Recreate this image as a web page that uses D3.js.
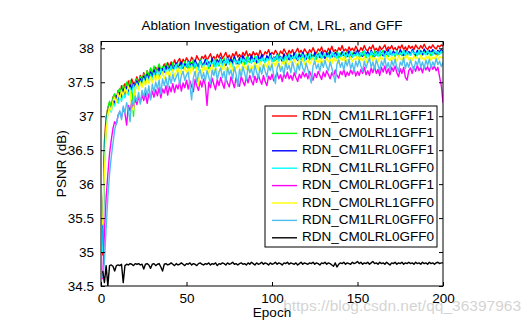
<!DOCTYPE html>
<html>
<head>
<meta charset="utf-8">
<script src="https://cdn.jsdelivr.net/npm/d3@7"></script>
<style>
  html, body { margin: 0; padding: 0; background: #fff; }
  svg { display: block; font-family: "Liberation Sans", Arial, Helvetica, sans-serif; }
</style>
</head>
<body>
<svg id="chart" width="531" height="326"></svg>
<script>
// PSNR (dB) per training epoch, one array per ablation setting
const epochs = d3.range(1, 201);

const cm1lrl1gff1 = [
34.95,36.62,36.98,37.12,37.20,37.13,37.28,37.32,37.25,37.38,
37.30,37.45,37.36,37.48,37.40,37.52,37.43,37.55,37.47,37.50,
37.58,37.49,37.60,37.53,37.64,37.55,37.67,37.58,37.70,37.61,
37.66,37.72,37.63,37.74,37.68,37.71,37.77,37.69,37.79,37.72,
37.80,37.74,37.83,37.76,37.81,37.85,37.77,37.84,37.79,37.86,
37.82,37.78,37.87,37.83,37.80,37.89,37.84,37.81,37.88,37.85,
37.90,37.82,37.87,37.92,37.84,37.88,37.83,37.91,37.86,37.93,
37.85,37.89,37.94,37.86,37.90,37.84,37.92,37.88,37.95,37.87,
37.91,37.86,37.94,37.89,37.96,37.88,37.92,37.87,37.95,37.90,
37.93,37.88,37.97,37.91,37.89,37.95,37.92,37.98,37.90,37.94,
37.91,37.97,37.93,37.89,37.96,37.92,37.99,37.94,37.90,37.97,
37.93,37.98,37.91,37.95,38.00,37.93,37.97,37.92,37.99,37.95,
37.92,37.98,37.94,38.01,37.95,37.93,37.99,37.96,38.02,37.94,
37.97,37.93,38.00,37.96,38.03,37.95,37.98,37.94,38.01,37.97,
38.04,37.96,37.99,37.95,38.02,37.97,38.00,37.96,38.03,37.98,
37.95,38.01,37.97,38.04,37.98,37.96,38.02,37.99,38.05,37.97,
38.00,37.96,38.03,37.98,38.01,38.05,37.97,38.02,37.99,38.04,
37.98,38.01,37.96,38.03,38.00,38.05,37.98,38.02,37.97,38.04,
38.00,38.03,37.98,38.05,38.01,37.99,38.04,38.00,38.06,38.01,
37.98,38.03,38.00,38.05,38.01,37.99,38.04,38.02,38.05,38.03];

const cm0lrl1gff1 = [
35.20,36.55,36.92,37.12,37.22,37.14,37.27,37.33,37.24,37.36,
37.41,37.32,37.46,37.37,37.50,37.41,37.53,37.45,37.00,37.48,
37.55,37.46,37.58,37.51,37.62,37.54,37.67,37.59,37.71,37.62,
37.74,37.65,37.70,37.77,37.66,37.73,37.69,37.78,37.70,37.75,
37.68,37.79,37.72,37.76,37.67,37.80,37.73,37.70,37.81,37.74,
37.69,37.80,37.75,37.83,37.71,37.78,37.74,37.84,37.72,37.79,
37.76,37.83,37.70,37.81,37.77,37.73,37.85,37.78,37.74,37.82,
37.79,37.86,37.75,37.80,37.84,37.76,37.82,37.87,37.77,37.81,
37.85,37.78,37.83,37.76,37.87,37.81,37.79,37.86,37.82,37.88,
37.78,37.84,37.81,37.89,37.83,37.79,37.87,37.82,37.90,37.84,
37.80,37.88,37.83,37.91,37.85,37.81,37.89,37.74,37.86,37.92,
37.84,37.88,37.82,37.90,37.86,37.93,37.83,37.89,37.85,37.91,
37.87,37.83,37.92,37.86,37.90,37.84,37.93,37.88,37.85,37.92,
37.86,37.91,37.94,37.85,37.89,37.92,37.87,37.95,37.86,37.93,
37.89,37.91,37.86,37.95,37.88,37.85,37.93,37.89,37.96,37.87,
37.92,37.88,37.95,37.90,37.86,37.94,37.89,37.92,37.87,37.96,
37.90,37.94,37.88,37.93,37.97,37.89,37.92,37.88,37.95,37.91,
37.94,37.87,37.96,37.90,37.93,37.89,37.97,37.91,37.88,37.95,
37.90,37.96,37.92,37.88,37.95,37.91,37.97,37.90,37.93,37.96,
37.91,37.95,37.89,37.97,37.92,37.94,37.90,37.96,37.93,37.95];

const cm1lrl0gff1 = [
35.10,36.40,36.88,37.06,37.15,37.10,37.24,37.19,37.30,37.23,
37.35,37.28,37.40,37.31,37.43,37.36,37.46,37.39,37.49,37.42,
37.52,37.44,37.55,37.47,37.59,37.50,37.62,37.54,37.65,37.57,
37.68,37.59,37.66,37.71,37.62,37.70,37.65,37.74,37.67,37.72,
37.76,37.68,37.73,37.78,37.70,37.75,37.80,37.71,37.77,37.73,
37.81,37.74,37.78,37.71,37.83,37.76,37.72,37.82,37.77,37.74,
37.84,37.76,37.80,37.73,37.85,37.78,37.75,37.83,37.79,37.86,
37.77,37.82,37.75,37.87,37.80,37.84,37.78,37.88,37.81,37.76,
37.86,37.80,37.89,37.83,37.78,37.87,37.82,37.90,37.81,37.85,
37.79,37.88,37.83,37.91,37.84,37.80,37.89,37.85,37.92,37.82,
37.87,37.83,37.91,37.84,37.88,37.81,37.92,37.86,37.89,37.83,
37.90,37.85,37.93,37.87,37.82,37.91,37.86,37.94,37.88,37.84,
37.92,37.87,37.90,37.85,37.94,37.88,37.91,37.86,37.95,37.89,
37.85,37.93,37.88,37.96,37.90,37.86,37.94,37.89,37.92,37.87,
37.95,37.89,37.93,37.88,37.96,37.91,37.87,37.94,37.90,37.97,
37.89,37.93,37.88,37.96,37.91,37.95,37.89,37.97,37.92,37.88,
37.95,37.90,37.97,37.92,37.89,37.96,37.91,37.98,37.93,37.90,
37.96,37.92,37.95,37.90,37.98,37.93,37.89,37.97,37.92,37.95,
37.91,37.98,37.94,37.90,37.97,37.93,37.96,37.91,37.99,37.94,
37.92,37.97,37.93,37.98,37.94,37.91,37.97,37.94,37.98,37.95];

const cm1lrl1gff0 = [
35.00,36.30,36.84,37.04,37.12,37.06,37.20,37.15,37.25,37.19,
37.30,37.22,37.35,37.27,37.39,37.31,37.42,37.34,37.46,37.38,
37.49,37.41,37.52,37.44,37.56,37.47,37.59,37.50,37.62,37.53,
37.64,37.56,37.67,37.58,37.69,37.61,37.72,37.63,37.70,37.66,
37.74,37.65,37.71,37.76,37.67,37.73,37.69,37.77,37.70,37.75,
37.80,37.71,37.76,37.69,37.79,37.74,37.68,37.81,37.75,37.72,
37.78,37.83,37.73,37.79,37.75,37.82,37.71,37.80,37.76,37.84,
37.74,37.81,37.77,37.85,37.76,37.79,37.73,37.84,37.78,37.82,
37.76,37.86,37.80,37.83,37.77,37.87,37.81,37.78,37.85,37.80,
37.88,37.79,37.84,37.81,37.87,37.78,37.85,37.82,37.89,37.80,
37.86,37.83,37.90,37.81,37.87,37.84,37.79,37.89,37.85,37.91,
37.82,37.88,37.84,37.92,37.83,37.87,37.85,37.91,37.81,37.89,
37.86,37.93,37.84,37.88,37.82,37.91,37.87,37.93,37.85,37.89,
37.92,37.86,37.90,37.84,37.94,37.88,37.91,37.85,37.93,37.87,
37.90,37.94,37.86,37.92,37.88,37.95,37.87,37.91,37.89,37.94,
37.87,37.93,37.90,37.96,37.88,37.92,37.86,37.95,37.91,37.89,
37.94,37.88,37.96,37.91,37.93,37.87,37.95,37.90,37.97,37.89,
37.93,37.90,37.96,37.88,37.94,37.91,37.97,37.89,37.95,37.92,
37.90,37.96,37.92,37.94,37.89,37.97,37.91,37.95,37.93,37.90,
37.96,37.92,37.94,37.90,37.97,37.93,37.95,37.91,37.96,37.94];

const cm0lrl0gff1 = [
34.60,35.30,35.80,36.15,36.45,36.65,36.82,36.92,36.88,37.02,
37.06,36.98,37.12,37.04,36.87,37.16,37.08,37.22,37.12,37.25,
37.17,37.29,37.20,37.31,37.23,37.34,37.19,37.33,37.26,37.37,
37.28,37.39,37.30,37.42,37.27,37.40,37.34,37.45,37.31,37.44,
37.36,37.48,37.35,37.46,37.40,37.51,37.37,37.49,37.42,37.53,
37.40,37.52,37.44,37.36,37.54,37.45,37.38,37.52,37.43,37.55,
37.46,37.16,37.50,37.42,37.56,37.47,37.39,37.54,37.45,37.57,
37.48,37.41,37.56,37.49,37.43,37.58,37.50,37.42,37.57,37.48,
37.44,37.59,37.51,37.45,37.58,37.49,37.60,37.52,37.46,37.59,
37.50,37.61,37.53,37.47,37.60,37.51,37.45,37.59,37.54,37.62,
37.52,37.58,37.64,37.55,37.61,37.51,37.63,37.56,37.65,37.55,
37.60,37.53,37.64,37.57,37.51,37.62,37.56,37.65,37.58,37.63,
37.55,37.66,37.59,37.53,37.63,37.57,37.66,37.60,37.54,37.65,
37.58,37.67,37.61,37.55,37.64,37.59,37.68,37.60,37.56,37.66,
37.61,37.69,37.58,37.65,37.60,37.68,37.62,37.70,37.59,37.66,
37.60,37.69,37.63,37.72,37.61,37.67,37.60,37.71,37.64,37.73,
37.63,37.69,37.60,37.72,37.65,37.74,37.63,37.70,37.61,37.72,
37.66,37.74,37.64,37.58,37.70,37.63,37.72,37.57,37.53,37.67,
37.71,37.63,37.73,37.66,37.75,37.67,37.72,37.64,37.74,37.68,
37.73,37.66,37.75,37.69,37.74,37.67,37.72,37.58,37.45,37.20];

const cm0lrl1gff0 = [
35.40,36.20,36.78,37.02,37.15,37.08,37.23,37.28,37.20,37.33,
37.26,37.38,37.30,37.41,37.34,37.44,37.37,37.12,37.09,37.42,
37.47,37.39,37.50,37.42,37.53,37.45,37.56,37.48,37.58,37.49,
37.60,37.52,37.63,37.54,37.58,37.65,37.55,37.62,37.67,37.57,
37.64,37.69,37.59,37.66,37.71,37.61,37.68,37.63,37.72,37.65,
37.70,37.62,37.74,37.66,37.61,37.72,37.45,37.69,37.64,37.75,
37.67,37.72,37.63,37.70,37.76,37.65,37.71,37.68,37.62,37.74,
37.69,37.77,37.66,37.72,37.68,37.78,37.67,37.73,37.70,37.76,
37.71,37.66,37.78,37.72,37.69,37.77,37.64,37.75,37.70,37.79,
37.73,37.68,37.80,37.74,37.70,37.78,37.72,37.81,37.71,37.76,
37.79,37.73,37.82,37.75,37.71,37.80,37.76,37.83,37.74,37.78,
37.81,37.75,37.84,37.77,37.73,37.82,37.78,37.85,37.76,37.80,
37.83,37.76,37.81,37.86,37.77,37.82,37.79,37.85,37.75,37.83,
37.79,37.86,37.80,37.84,37.77,37.87,37.81,37.83,37.78,37.86,
37.82,37.88,37.79,37.84,37.81,37.87,37.80,37.85,37.83,37.89,
37.80,37.86,37.82,37.88,37.79,37.85,37.83,37.89,37.81,37.86,
37.84,37.80,37.88,37.83,37.86,37.81,37.89,37.84,37.82,37.88,
37.83,37.87,37.80,37.89,37.85,37.82,37.88,37.84,37.90,37.83,
37.86,37.82,37.89,37.84,37.87,37.81,37.90,37.85,37.83,37.88,
37.84,37.89,37.82,37.87,37.85,37.90,37.83,37.88,37.86,37.87];

const cm1lrl0gff0 = [
34.62,34.85,35.35,35.80,36.15,36.40,36.60,36.80,36.90,37.00,
37.08,36.95,37.15,37.05,37.20,37.10,36.92,37.24,37.16,37.30,
37.22,37.35,37.18,37.38,37.28,37.42,37.30,37.45,37.24,37.47,
37.36,37.50,37.40,37.53,37.33,37.55,37.45,37.57,37.42,37.60,
37.48,37.62,37.51,37.58,37.64,37.46,37.60,37.66,37.53,37.61,
37.65,37.45,37.24,37.56,37.66,37.50,37.62,37.68,37.55,37.64,
37.52,37.67,37.58,37.48,37.68,37.60,37.70,37.54,37.65,37.71,
37.57,37.66,37.50,37.72,37.61,37.68,37.55,37.73,37.62,37.44,
37.69,37.58,37.73,37.63,37.53,37.74,37.64,37.70,37.57,37.75,
37.65,37.56,37.72,37.62,37.76,37.66,37.58,37.74,37.67,37.77,
37.60,37.48,37.71,37.78,37.66,37.73,37.61,37.79,37.69,37.75,
37.64,37.80,37.70,37.62,37.77,37.68,37.81,37.71,37.65,37.78,
37.69,37.58,37.49,37.74,37.81,37.70,37.77,37.66,37.80,37.72,
37.82,37.73,37.67,37.80,37.71,37.60,37.50,37.77,37.83,37.72,
37.79,37.68,37.82,37.74,37.84,37.70,37.78,37.66,37.81,37.73,
37.83,37.74,37.66,37.81,37.71,37.79,37.85,37.72,37.80,37.69,
37.83,37.75,37.67,37.81,37.74,37.85,37.71,37.79,37.68,37.82,
37.74,37.84,37.72,37.66,37.80,37.75,37.86,37.70,37.79,37.72,
37.83,37.74,37.68,37.81,37.75,37.85,37.72,37.80,37.70,37.83,
37.75,37.84,37.71,37.80,37.74,37.85,37.76,37.81,37.73,37.79];

const cm0lrl0gff0 = [
34.72,34.55,34.80,34.50,34.80,34.81,34.79,34.72,34.80,34.81,
34.80,34.82,34.55,34.80,34.82,34.81,34.83,34.82,34.80,34.83,
34.82,34.83,34.81,34.82,34.75,34.82,34.83,34.81,34.76,34.82,
34.83,34.80,34.82,34.83,34.78,34.72,34.82,34.83,34.81,34.82,
34.84,34.82,34.80,34.83,34.81,34.82,34.84,34.82,34.80,34.83,
34.82,34.84,34.81,34.83,34.82,34.80,34.83,34.84,34.82,34.81,
34.83,34.82,34.84,34.81,34.83,34.82,34.84,34.80,34.83,34.82,
34.84,34.83,34.81,34.84,34.82,34.83,34.85,34.82,34.83,34.81,
34.83,34.84,34.82,34.83,34.81,34.84,34.82,34.85,34.83,34.81,
34.84,34.82,34.83,34.85,34.82,34.84,34.83,34.81,34.84,34.82,
34.83,34.85,34.82,34.84,34.83,34.81,34.84,34.83,34.85,34.82,
34.84,34.83,34.82,34.84,34.81,34.83,34.85,34.82,34.84,34.83,
34.82,34.84,34.83,34.85,34.82,34.84,34.83,34.81,34.84,34.83,
34.85,34.82,34.84,34.83,34.81,34.79,34.84,34.78,34.82,34.84,
34.83,34.85,34.82,34.84,34.83,34.82,34.85,34.83,34.84,34.86,
34.83,34.85,34.82,34.84,34.83,34.85,34.82,34.84,34.86,34.83,
34.84,34.82,34.85,34.83,34.84,34.82,34.85,34.83,34.81,34.84,
34.83,34.85,34.82,34.84,34.83,34.85,34.82,34.84,34.83,34.85,
34.83,34.84,34.82,34.85,34.83,34.84,34.82,34.85,34.83,34.84,
34.82,34.85,34.83,34.84,34.82,34.84,34.85,34.83,34.84,34.84];

const seriesNames = [
  "RDN_CM1LRL1GFF1", "RDN_CM0LRL1GFF1", "RDN_CM1LRL0GFF1", "RDN_CM1LRL1GFF0",
  "RDN_CM0LRL0GFF1", "RDN_CM0LRL1GFF0", "RDN_CM1LRL0GFF0", "RDN_CM0LRL0GFF0"
];
const seriesValues = [
  cm1lrl1gff1, cm0lrl1gff1, cm1lrl0gff1, cm1lrl1gff0,
  cm0lrl0gff1, cm0lrl1gff0, cm1lrl0gff0, cm0lrl0gff0
];
const seriesColors = [
  "#ff0000", "#00ff00", "#0000ff", "#00ffff",
  "#ff00ff", "#ffff00", "#4dbeee", "#000000"
];

const xTicks = [0, 50, 100, 150, 200];
const yTicks = [34.5, 35, 35.5, 36, 36.5, 37, 37.5, 38];

const titleText = "Ablation Investigation of CM, LRL, and GFF";
const xLabel = "Epoch";
const yLabel = "PSNR (dB)";
const watermark = "https://blog.csdn.net/qq_36397963";

// ---- layout ----
const svg = d3.select("#chart");
const plot = { left: 101, right: 443, top: 41.5, bottom: 286 };
const fontSize = 13.5;

const x = d3.scaleLinear().domain([0, 200]).range([plot.left, plot.right]);
const y = d3.scaleLinear().domain([34.5, 38.1]).range([plot.bottom, plot.top]);

svg.append("defs").append("clipPath").attr("id", "plotClip")
  .append("rect")
  .attr("x", plot.left).attr("y", plot.top)
  .attr("width", plot.right - plot.left).attr("height", plot.bottom - plot.top);

// white axes background
svg.append("rect")
  .attr("x", plot.left).attr("y", plot.top)
  .attr("width", plot.right - plot.left).attr("height", plot.bottom - plot.top)
  .attr("fill", "#fff");

// curves, drawn in legend order so later ones sit on top
const line = d3.line()
  .x((d, i) => x(epochs[i]))
  .y(d => y(d));

const curves = svg.append("g").attr("clip-path", "url(#plotClip)");
seriesValues.forEach((vals, k) => {
  curves.append("path")
    .datum(vals)
    .attr("fill", "none")
    .attr("stroke", seriesColors[k])
    .attr("stroke-width", 1.4)
    .attr("stroke-linejoin", "round")
    .attr("d", line);
});

// axes: inward ticks, mirrored on top and right
const tickLen = 4;
const axisStyle = g => {
  g.selectAll("path.domain").remove();
  g.selectAll("line").attr("stroke", "#000").attr("stroke-width", 1);
  g.selectAll("text")
    .attr("fill", "#000")
    .attr("font-size", fontSize)
    .attr("font-family", "Liberation Sans, Arial, Helvetica, sans-serif");
};

svg.append("g")
  .attr("transform", `translate(0,${plot.bottom})`)
  .call(d3.axisBottom(x).tickValues(xTicks).tickSizeInner(-tickLen).tickSizeOuter(0)
        .tickPadding(7).tickFormat(d3.format("d")))
  .call(axisStyle);

svg.append("g")
  .attr("transform", `translate(0,${plot.top})`)
  .call(d3.axisTop(x).tickValues(xTicks).tickSizeInner(-tickLen).tickSizeOuter(0).tickFormat(""))
  .call(axisStyle);

svg.append("g")
  .attr("transform", `translate(${plot.left},0)`)
  .call(d3.axisLeft(y).tickValues(yTicks).tickSizeInner(-tickLen).tickSizeOuter(0)
        .tickPadding(7).tickFormat(d => String(d)))
  .call(axisStyle);

svg.append("g")
  .attr("transform", `translate(${plot.right},0)`)
  .call(d3.axisRight(y).tickValues(yTicks).tickSizeInner(-tickLen).tickSizeOuter(0).tickFormat(""))
  .call(axisStyle);

// axes box
svg.append("rect")
  .attr("x", plot.left).attr("y", plot.top)
  .attr("width", plot.right - plot.left).attr("height", plot.bottom - plot.top)
  .attr("fill", "none").attr("stroke", "#000").attr("stroke-width", 1);

// title and axis labels
svg.append("text")
  .attr("x", (plot.left + plot.right) / 2).attr("y", 26)
  .attr("text-anchor", "middle").attr("dominant-baseline", "middle")
  .attr("font-size", fontSize).attr("fill", "#000")
  .text(titleText);

svg.append("text")
  .attr("x", (plot.left + plot.right) / 2).attr("y", 313)
  .attr("text-anchor", "middle").attr("dominant-baseline", "middle")
  .attr("font-size", fontSize).attr("fill", "#000")
  .text(xLabel);

svg.append("text")
  .attr("transform", `translate(62,${(plot.top + plot.bottom) / 2}) rotate(-90)`)
  .attr("text-anchor", "middle").attr("dominant-baseline", "middle")
  .attr("font-size", fontSize).attr("fill", "#000")
  .text(yLabel);

// legend
const legend = { x: 265, y: 106, w: 172, h: 141, row0: 116, rowGap: 17.4 };
const lg = svg.append("g");
lg.append("rect")
  .attr("x", legend.x).attr("y", legend.y)
  .attr("width", legend.w).attr("height", legend.h)
  .attr("fill", "#fff").attr("stroke", "#000").attr("stroke-width", 1);

seriesNames.forEach((name, k) => {
  const yy = legend.row0 + k * legend.rowGap;
  lg.append("line")
    .attr("x1", legend.x + 7).attr("x2", legend.x + 32)
    .attr("y1", yy).attr("y2", yy)
    .attr("stroke", seriesColors[k]).attr("stroke-width", 1.4);
  lg.append("text")
    .attr("x", legend.x + 37).attr("y", yy)
    .attr("dominant-baseline", "middle")
    .attr("font-size", fontSize).attr("fill", "#000")
    .text(name);
});

// site watermark
svg.append("text")
  .attr("x", 521).attr("y", 307)
  .attr("text-anchor", "end").attr("dominant-baseline", "middle")
  .attr("font-size", 15.5).attr("fill", "#c9c9c9").attr("fill-opacity", 0.8)
  .text(watermark);
</script>
</body>
</html>
